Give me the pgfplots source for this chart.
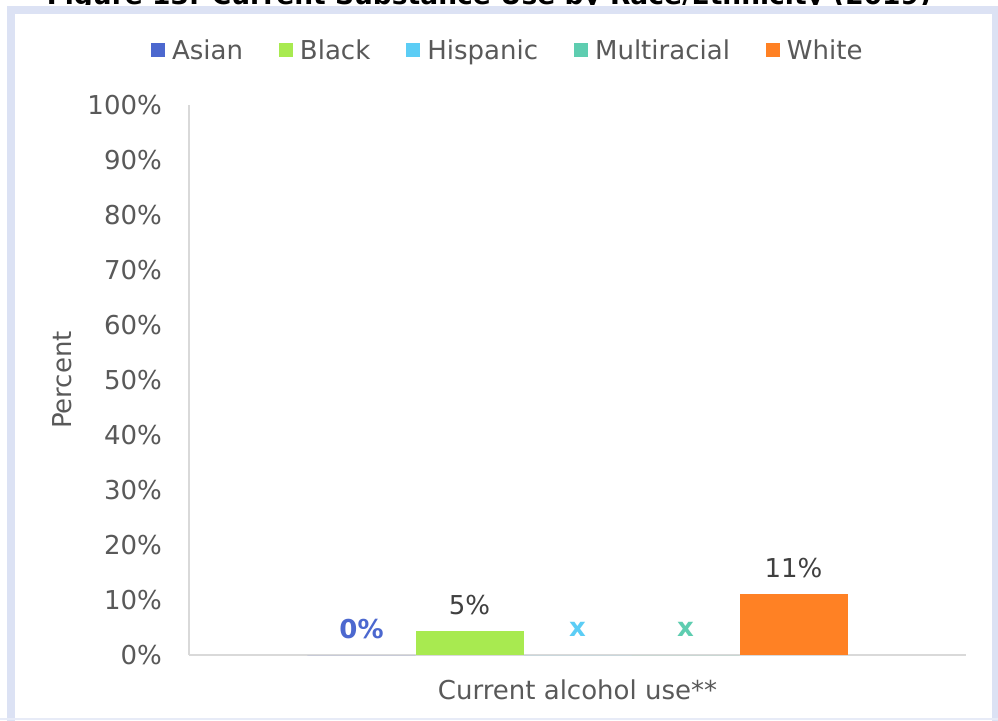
\documentclass[border=0pt]{standalone}
\usepackage{pgfplots}
\pgfplotsset{compat=1.18}
\usepackage{fontspec}
\setmainfont{DejaVu Sans}
\definecolor{asian}{HTML}{4C68CF}
\definecolor{black2}{HTML}{A8EA50}
\definecolor{hisp}{HTML}{5CCDF5}
\definecolor{multi}{HTML}{5ECDB0}
\definecolor{white2}{HTML}{FF8124}
\definecolor{framec}{HTML}{DCE2F4}
\definecolor{axisgrey}{HTML}{D9D9D9}
\definecolor{labelgrey}{HTML}{595959}
\definecolor{valgrey}{HTML}{404040}
\newcommand{\bigf}{\fontsize{26}{31}\selectfont}
\pgfplotsset{
  sq/.style={legend image code/.code={\fill[#1] (0pt,-7pt) rectangle (14pt,7pt);}},
}
\begin{document}
\begin{tikzpicture}[x=1pt,y=1pt]
\useasboundingbox (0,0) rectangle (998,720);
\clip (0,0) rectangle (998,720);
\node[anchor=base, font=\fontsize{26.5}{30}\selectfont\bfseries, inner sep=0] at (489,715.5) {Figure 13: Current Substance Use by Race/Ethnicity (2019)};
\fill[white] (0,0) rectangle (998,715);
\draw[framec, line width=8] (11,-20) rectangle (996,710);
\draw[framec!70, line width=1.5] (0,1.2) -- (998,1.2);
\begin{axis}[
  at={(189pt,65pt)}, anchor=south west,
  scale only axis, width=777pt, height=550pt,
  xmin=-0.5, xmax=0.5, ymin=0, ymax=100,
  ybar=0pt, bar width=108pt,
  axis x line=bottom, axis y line=left,
  axis line style={draw=axisgrey, line width=1.5pt, -},
  major tick length=0pt,
  ytick={0,10,...,100},
  yticklabels={0\%,10\%,20\%,30\%,40\%,50\%,60\%,70\%,80\%,90\%,100\%},
  xtick={0}, xticklabels={Current alcohol use**},
  ticklabel style={font=\bigf, text=labelgrey},
  yticklabel style={inner sep=0pt, xshift=-27pt},
  xticklabel style={inner sep=0pt, yshift=-25pt},
  ylabel={Percent},
  ylabel style={at={(axis description cs:-0.1634,0.5)}, anchor=center, font=\bigf, text=labelgrey, inner sep=0pt},
  legend columns=5,
  legend style={at={(0.409,1.1)}, anchor=center, draw=none, fill=none, font=\bigf, text=labelgrey,
    nodes={inner xsep=0pt},
    /tikz/every odd column/.append style={column sep=7pt},
    /tikz/every even column/.append style={column sep=36pt}},
  nodes near coords style={anchor=center, yshift=26pt, font=\bigf, inner sep=0pt},
]
\addplot[fill=asian, draw=none, nodes near coords={\textbf{0\%}}, nodes near coords style={text=asian}, sq] coordinates {(0,0)};
\addlegendentry{Asian}
\addplot[fill=black2, draw=none, nodes near coords={5\%}, nodes near coords style={text=valgrey}, sq] coordinates {(0,4.4)};
\addlegendentry{Black}
\addplot[fill=hisp, draw=none, nodes near coords={\textbf{x}}, nodes near coords style={text=hisp}, sq] coordinates {(0,0)};
\addlegendentry{Hispanic}
\addplot[fill=multi, draw=none, nodes near coords={\textbf{x}}, nodes near coords style={text=multi}, sq] coordinates {(0,0)};
\addlegendentry{Multiracial}
\addplot[fill=white2, draw=none, nodes near coords={11\%}, nodes near coords style={text=valgrey}, sq] coordinates {(0,11.1)};
\addlegendentry{White}
\end{axis}
\end{tikzpicture}
\end{document}
